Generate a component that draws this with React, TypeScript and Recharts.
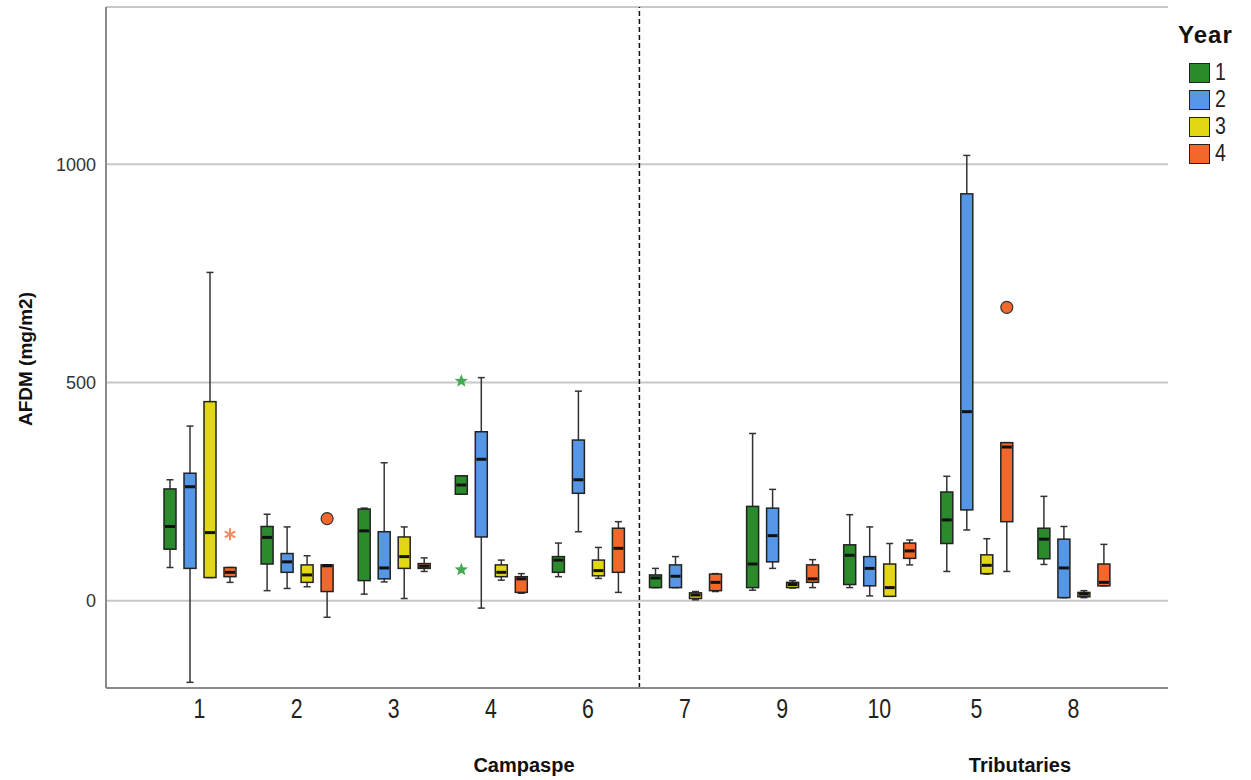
import { ComposedChart, Bar, XAxis, YAxis, CartesianGrid, ReferenceLine } from "recharts";

const sites = ["1", "2", "3", "4", "6", "7", "9", "10", "5", "8"];
const years = ["1", "2", "3", "4"];
const yearColors = ["#2b8a2b", "#5597e6", "#e3d614", "#f2682a"];
const starColors = ["#45a852", "#5597e6", "#e3d614", "#f58a60"];

// [min, q1, median, q3, max] for each site, in the order of `sites`
const year1 = [
  [76, 118, 170, 256, 277],
  [23, 84, 145, 170, 198],
  [15, 46, 160, 210, 212],
  [244, 244, 265, 286, 286],
  [55, 65, 93, 101, 132],
  [30, 30, 52, 59, 74],
  [24, 30, 84, 216, 383],
  [30, 37, 104, 128, 197],
  [67, 131, 185, 249, 285],
  [83, 96, 141, 166, 239],
];
const year2 = [
  [-187, 74, 261, 292, 400],
  [28, 65, 89, 108, 169],
  [43, 50, 75, 158, 316],
  [-17, 146, 324, 387, 511],
  [158, 246, 277, 368, 480],
  [30, 30, 56, 82, 101],
  [74, 89, 149, 212, 255],
  [11, 34, 74, 101, 169],
  [162, 208, 433, 932, 1020],
  [7, 7, 75, 141, 170],
];
const year3 = [
  [53, 53, 156, 456, 752],
  [32, 42, 59, 82, 103],
  [5, 74, 101, 146, 169],
  [47, 55, 65, 82, 93],
  [51, 57, 69, 93, 122],
  [2, 5, 13, 18, 21],
  [29, 30, 37, 42, 46],
  [10, 10, 30, 84, 131],
  [61, 62, 81, 105, 142],
  [7, 9, 15, 19, 23],
];
const year4 = [
  [42, 55, 65, 76, 76],
  [-38, 21, 80, 82, 82],
  [67, 74, 79, 85, 98],
  [17, 19, 50, 55, 62],
  [19, 65, 120, 166, 181],
  [21, 23, 42, 61, 62],
  [30, 42, 50, 82, 94],
  [82, 97, 114, 132, 139],
  [67, 181, 352, 362, 362],
  [34, 34, 42, 84, 129],
];

const outliers = [
  { site: "4", year: 1, values: [503, 71], kind: "star" },
  { site: "1", year: 4, values: [152], kind: "asterisk" },
  { site: "2", year: 4, values: [188], kind: "circle" },
  { site: "5", year: 4, values: [672], kind: "circle" },
];

const yTicks = [0, 500, 1000];
// dashed divider between the two river groups (site index position)
const dividerAt = 4.53;
const groupLabels = [
  { text: "Campaspe", x: 524 },
  { text: "Tributaries", x: 1020 },
];

const stats = [year1, year2, year3, year4];
const data = sites.map((site, i) => {
  const row: any = { site, idx: i };
  stats.forEach((s, y) => {
    const [mn, q1, md, q3, mx] = s[i];
    row[`w${y}`] = [mn, mx];
    row[`b${y}`] = [q1, q3];
    row[`m${y}`] = [md, md];
    const o = outliers.find((o) => o.site === site && o.year === y + 1);
    row[`o${y}`] = o ? [Math.min(...o.values), Math.max(...o.values)] : null;
    row[`k${y}`] = o ? o.kind : null;
  });
  return row;
});

const narrow = "'Liberation Sans Narrow', 'Arial Narrow', 'Liberation Sans', Arial, sans-serif";
const pad = { left: 45, right: 46 };

const ok = (...v: number[]) => v.every((n) => Number.isFinite(n));

const Whisker = (props: any) => {
  const { x, y, width, height } = props;
  if (!ok(x, y, width, height)) return null;
  const cx = x + width / 2;
  const top = Math.min(y, y + height);
  const bot = Math.max(y, y + height);
  return (
    <g stroke="#333" strokeWidth={1.5}>
      <line x1={cx} x2={cx} y1={top} y2={bot} />
      <line x1={cx - 3.5} x2={cx + 3.5} y1={top} y2={top} />
      <line x1={cx - 3.5} x2={cx + 3.5} y1={bot} y2={bot} />
    </g>
  );
};

const makeBox = (color: string) => (props: any) => {
  const { x, y, width, height } = props;
  if (!ok(x, y, width, height)) return null;
  const top = Math.min(y, y + height);
  return (
    <rect x={x} y={top} width={width} height={Math.max(Math.abs(height), 1)} fill={color} stroke="#222" strokeWidth={1.5} />
  );
};

const Median = (props: any) => {
  const { x, y, width } = props;
  if (!ok(x, y, width)) return null;
  return <line x1={x + 1} x2={x + width - 1} y1={y} y2={y} stroke="#111" strokeWidth={3} />;
};

const marker = (kind: string, cx: number, cy: number, color: string, fill: string, key: string) => {
  if (kind === "circle") {
    return <circle key={key} cx={cx} cy={cy} r={6} fill={fill} stroke="#333" strokeWidth={1.2} />;
  }
  if (kind === "asterisk") {
    const r = 6;
    return (
      <g key={key} stroke={color} strokeWidth={2}>
        {[90, 30, 150].map((a) => {
          const dx = r * Math.cos((a * Math.PI) / 180);
          const dy = r * Math.sin((a * Math.PI) / 180);
          return <line key={a} x1={cx - dx} y1={cy - dy} x2={cx + dx} y2={cy + dy} />;
        })}
      </g>
    );
  }
  const pts: string[] = [];
  for (let i = 0; i < 10; i++) {
    const r = i % 2 === 0 ? 7 : 3;
    const a = -Math.PI / 2 + (i * Math.PI) / 5;
    pts.push(`${cx + r * Math.cos(a)},${cy + r * Math.sin(a)}`);
  }
  return <polygon key={key} points={pts.join(" ")} fill={color} />;
};

const makeOutlier = (yi: number) => (props: any) => {
  const { x, y, width, height, payload } = props;
  if (!ok(x, y, width, height) || !payload || !payload[`k${yi}`]) return null;
  const kind = payload[`k${yi}`];
  const cx = x + width / 2;
  const top = Math.min(y, y + height);
  const bot = Math.max(y, y + height);
  return (
    <g>
      {marker(kind, cx, top, starColors[yi], yearColors[yi], "a")}
      {bot - top > 1 ? marker(kind, cx, bot, starColors[yi], yearColors[yi], "b") : null}
    </g>
  );
};

const SiteTick = (props: any) => {
  const { x, y, payload } = props;
  return (
    <g transform={`translate(${x},${y})`}>
      <text
        transform="scale(0.82,1.05)"
        textAnchor="middle"
        dy="0.71em"
        fill="#222"
        fontSize={26}
        fontFamily={narrow}
      >
        {payload.value}
      </text>
    </g>
  );
};

export default function App() {
  return (
    <div style={{ position: "absolute", left: 0, top: 0, width: 1251, height: 780, background: "#fff" }}>
      <ComposedChart width={1251} height={780} data={data} margin={{ top: 7, right: 83, bottom: 52, left: 0 }} barGap={8}>
        <CartesianGrid vertical={false} xAxisId="b" stroke="#c8c8c8" strokeWidth={2} />
        <XAxis
          xAxisId="b"
          dataKey="site"
          type="category"
          padding={pad}
          height={40}
          axisLine={{ stroke: "#8a8a8a", strokeWidth: 2 }}
          tickLine={false}
          tickMargin={5}
          tick={<SiteTick />}
        />
        <XAxis xAxisId="w" dataKey="site" type="category" padding={pad} hide />
        <XAxis xAxisId="m" dataKey="site" type="category" padding={pad} hide />
        <XAxis xAxisId="o" dataKey="site" type="category" padding={pad} hide />
        <XAxis xAxisId="n" dataKey="idx" type="number" domain={[-0.5, 9.5]} padding={pad} hide allowDataOverflow />
        <YAxis
          width={106}
          domain={[-200, 1360]}
          ticks={yTicks}
          allowDataOverflow
          axisLine={{ stroke: "#8a8a8a", strokeWidth: 2 }}
          tickLine={false}
          tickMargin={4}
          tick={{ fill: "#333", fontSize: 18, fontFamily: "'Liberation Sans', Arial, sans-serif" }}
          label={{
            content: () => (
              <text
                x={25}
                y={359}
                transform="rotate(-90 25 359)"
                textAnchor="middle"
                dominantBaseline="central"
                fontFamily={narrow}
                fontWeight="bold"
                fontSize={19}
                fill="#111"
              >
                AFDM (mg/m2)
              </text>
            ),
          }}
        />
        <ReferenceLine xAxisId="n" x={dividerAt} stroke="#111" strokeWidth={1.5} strokeDasharray="5 3" />
        {years.map((yr, i) => (
          <Bar key={`w${yr}`} xAxisId="w" dataKey={`w${i}`} barSize={12} shape={Whisker} isAnimationActive={false} />
        ))}
        {years.map((yr, i) => (
          <Bar key={`b${yr}`} xAxisId="b" dataKey={`b${i}`} barSize={12} shape={makeBox(yearColors[i])} isAnimationActive={false} />
        ))}
        {years.map((yr, i) => (
          <Bar key={`m${yr}`} xAxisId="m" dataKey={`m${i}`} barSize={12} shape={Median} isAnimationActive={false} />
        ))}
        {years.map((yr, i) => (
          <Bar key={`o${yr}`} xAxisId="o" dataKey={`o${i}`} barSize={12} shape={makeOutlier(i)} isAnimationActive={false} />
        ))}
      </ComposedChart>

      {groupLabels.map((g) => (
        <div
          key={g.text}
          style={{
            position: "absolute",
            left: g.x - 100,
            width: 200,
            top: 754,
            textAlign: "center",
            fontFamily: narrow,
            fontWeight: "bold",
            fontSize: 20,
            color: "#111",
          }}
        >
          {g.text}
        </div>
      ))}

      <div style={{ position: "absolute", left: 1178, top: 20, fontFamily: "'Liberation Sans', Arial, sans-serif" }}>
        <div style={{ fontWeight: "bold", fontSize: 24, letterSpacing: 1, color: "#111", lineHeight: "30px" }}>Year</div>
        <div style={{ marginTop: 9 }}>
          {years.map((yr, i) => (
            <div key={yr} style={{ display: "flex", alignItems: "center", height: 27, marginLeft: 11 }}>
              <div style={{ width: 19, height: 18, background: yearColors[i], border: "1.5px solid #222" }} />
              <span
                style={{
                  marginLeft: 5,
                  fontFamily: narrow,
                  fontSize: 23,
                  color: "#222",
                  display: "inline-block",
                  transform: "scaleX(0.85)",
                  transformOrigin: "left center",
                }}
              >
                {yr}
              </span>
            </div>
          ))}
        </div>
      </div>
    </div>
  );
}
